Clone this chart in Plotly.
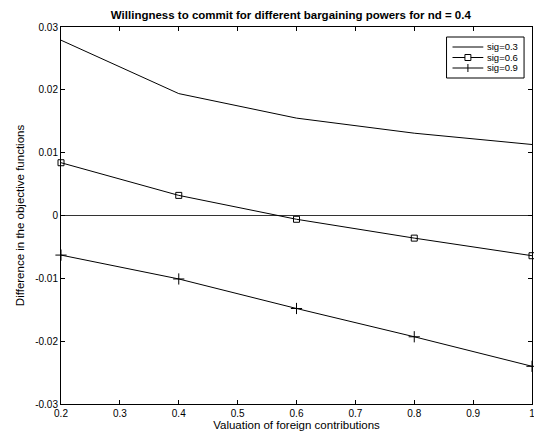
import plotly.graph_objects as go

# ---- data ----
valuation = [0.2, 0.4, 0.6, 0.8, 1.0]
sig_03 = [0.0279, 0.0194, 0.0155, 0.0131, 0.0113]
sig_06 = [0.0084, 0.0032, -0.0006, -0.0036, -0.0064]
sig_09 = [-0.0063, -0.0101, -0.0148, -0.0193, -0.0240]
series_names = ["sig=0.3", "sig=0.6", "sig=0.9"]

x_ticks = [0.2, 0.3, 0.4, 0.5, 0.6, 0.7, 0.8, 0.9, 1.0]
x_ticktext = ["0.2", "0.3", "0.4", "0.5", "0.6", "0.7", "0.8", "0.9", "1"]
y_ticks = [-0.03, -0.02, -0.01, 0, 0.01, 0.02, 0.03]
y_ticktext = ["-0.03", "-0.02", "-0.01", "0", "0.01", "0.02", "0.03"]

font = "Liberation Sans, Arial, Helvetica, sans-serif"

# page offset of the plot div (body margin)
OFF = 8
W, H = 542 - OFF, 436 - OFF
ML, MR, MT, MB = 61 - OFF, 7, 27 - OFF, 32
PW, PH = W - ML - MR, H - MT - MB


def px(xp):
    return (xp - 61) / PW


def py(yp):
    return (404 - yp) / PH


fig = go.Figure()
fig.add_trace(go.Scatter(x=valuation, y=sig_03, mode="lines", name=series_names[0],
                         line=dict(color="black", width=1), showlegend=False, cliponaxis=False))
fig.add_trace(go.Scatter(x=valuation, y=sig_06, mode="lines+markers", name=series_names[1],
                         line=dict(color="black", width=1), showlegend=False, cliponaxis=False,
                         marker=dict(symbol="square-open", size=6, color="black",
                                     line=dict(width=1, color="black"))))
fig.add_trace(go.Scatter(x=valuation, y=sig_09, mode="lines+markers", name=series_names[2],
                         line=dict(color="black", width=1), showlegend=False, cliponaxis=False,
                         marker=dict(symbol="cross-thin", size=8, color="black",
                                     line=dict(width=1, color="black"))))

axis_common = dict(showline=True, linecolor="black", linewidth=1, mirror="ticks",
                   ticks="inside", ticklen=4, tickcolor="black", showgrid=False,
                   tickfont=dict(family=font, size=10, color="black"))

# ---- legend (drawn compactly, Matlab style) ----
shapes = []
annotations = []
box_l, box_r, box_t, box_b = 449, 527, 37, 78
shapes.append(dict(type="rect", xref="paper", yref="paper",
                   x0=px(box_l), x1=px(box_r), y0=py(box_b), y1=py(box_t),
                   line=dict(color="black", width=1), fillcolor="white", layer="above"))
rows = [47, 57.5, 68]
ln_l, ln_r = 455, 486
mc = (ln_l + ln_r) / 2
for i, (name, yrow) in enumerate(zip(series_names, rows)):
    shapes.append(dict(type="line", xref="paper", yref="paper",
                       x0=px(ln_l), x1=px(ln_r), y0=py(yrow), y1=py(yrow),
                       line=dict(color="black", width=1), layer="above"))
    if i == 1:
        shapes.append(dict(type="rect", xref="paper", yref="paper",
                           x0=px(mc - 3), x1=px(mc + 3), y0=py(yrow + 3), y1=py(yrow - 3),
                           line=dict(color="black", width=1), fillcolor="white", layer="above"))
    if i == 2:
        shapes.append(dict(type="line", xref="paper", yref="paper",
                           x0=px(mc), x1=px(mc), y0=py(yrow + 4), y1=py(yrow - 4),
                           line=dict(color="black", width=1), layer="above"))
    annotations.append(dict(text=name, xref="paper", yref="paper", x=px(489), y=py(yrow),
                            xanchor="left", yanchor="middle", showarrow=False,
                            borderpad=0,
                            font=dict(family=font, size=9.5, color="black")))

fig.update_layout(
    width=W, height=H,
    margin=dict(l=ML, r=MR, t=MT, b=MB),
    paper_bgcolor="white", plot_bgcolor="white",
    title=dict(text="<b>Willingness to commit for different bargaining powers for nd = 0.4</b>",
               x=0.488, xanchor="center", xref="paper", y=1 - (15 - OFF) / H, yanchor="middle",
               font=dict(family=font, size=11.5, color="black")),
    xaxis=dict(range=[0.2, 1.0], tickvals=x_ticks, ticktext=x_ticktext, zeroline=False,
               title=dict(text="Valuation of foreign contributions", standoff=2,
                          font=dict(family=font, size=11.5, color="black")),
               **axis_common),
    yaxis=dict(range=[-0.03, 0.03], tickvals=y_ticks, ticktext=y_ticktext,
               zeroline=True, zerolinecolor="#333333", zerolinewidth=1,
               title=dict(text="Difference in the objective functions", standoff=8,
                          font=dict(family=font, size=11.5, color="black")),
               **axis_common),
    shapes=shapes,
    annotations=annotations,
    showlegend=False,
)

fig.write_html("out.html")
